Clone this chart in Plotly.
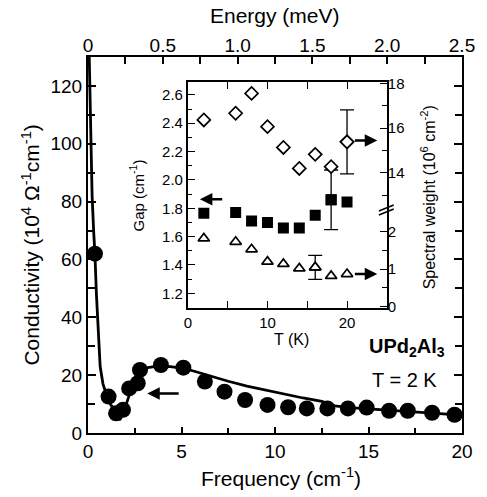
import plotly.graph_objects as go

# ---------------- data ----------------
# main panel: optical conductivity at T = 2 K
freq_pts = [0.37, 1.1, 1.5, 1.87, 2.2, 2.66, 2.78, 3.9, 5.1, 6.25, 7.3, 8.4, 9.6,
            10.7, 11.7, 12.8, 13.9, 14.9, 16.1, 17.1, 18.4, 19.6]
sigma_pts = [62, 12.6, 6.8, 8.0, 15.4, 17.2, 21.8, 23.5, 22.6, 17.8, 14.3, 11.4, 9.7,
             8.9, 8.5, 8.5, 8.5, 8.8, 7.7, 7.7, 7.0, 6.3]

fit_f = [0.05, 0.1, 0.15, 0.22, 0.3, 0.37, 0.45, 0.55, 0.65, 0.8, 1.0, 1.2, 1.45, 1.7,
         1.95, 2.2, 2.5, 2.8, 3.2, 3.7, 4.3, 5.0, 5.5, 6.5, 7.5, 8.5, 9.5, 10.5, 11.5,
         12.5, 13.2, 14.0, 15.0, 16.0, 17.0, 18.0, 19.0, 20.0]
fit_s = [135, 118, 100, 82, 70, 62, 48, 33, 23, 17, 13, 10, 7, 4.5,
         8, 13, 18, 21.5, 22.6, 23.1, 23.0, 22.4, 21.7, 19.7, 17.9, 16.2, 14.8, 13.5, 12.1,
         10.9, 9.4, 8.8, 8.4, 8.0, 7.6, 7.1, 6.6, 6.1]

CM_TO_MEV = 0.12398

# inset: temperature dependence
T = [2, 6, 8, 10, 12, 14, 16, 18, 20]
gap = [1.765, 1.77, 1.71, 1.70, 1.66, 1.66, 1.75, 1.86, 1.845]
sw_high = [16.36, 16.66, 17.55, 16.06, 15.13, 14.19, 14.82, 14.27, 15.38]
sw_low = [1.82, 1.73, 1.53, 1.20, 1.14, 1.02, 1.05, 0.82, 0.87]
gap_err_T, gap_err = 18, 0.21
swh_err_T, swh_err = 20, 1.43
swl_err_T, swl_err = 16, 0.32

main_xticks = [0, 5, 10, 15, 20]
main_yticks = [0, 20, 40, 60, 80, 100, 120]
energy_ticks = [0, 0.5, 1.0, 1.5, 2.0, 2.5]
energy_ticktext = ["0", "0.5", "1.0", "1.5", "2.0", "2.5"]
inset_xticks = [0, 10, 20]
gap_ticks = [1.2, 1.4, 1.6, 1.8, 2.0, 2.2, 2.4, 2.6]
gap_ticktext = ["1.2", "1.4", "1.6", "1.8", "2.0", "2.2", "2.4", "2.6"]
swh_ticks = [14, 16, 18]
swl_ticks = [0, 1, 2]

# ---------------- geometry helpers ----------------
W, H = 487, 497
L, R, TOP, BOT = 88, 466, 57, 433


def px(x):
    return (x - L) / (R - L)


def py(y):
    return (BOT - y) / (BOT - TOP)


FONT = "Liberation Sans, Arial, Helvetica, sans-serif"
BLACK = "black"
CLEAR = "rgba(0,0,0,0)"

fig = go.Figure()

# main fit line
fig.add_trace(go.Scatter(x=fit_f, y=fit_s, mode="lines",
                         line=dict(color=BLACK, width=2.8), xaxis="x", yaxis="y",
                         cliponaxis=True, showlegend=False, hoverinfo="skip"))
# main data points
fig.add_trace(go.Scatter(x=freq_pts, y=sigma_pts, mode="markers",
                         marker=dict(color=BLACK, size=16, symbol="circle"),
                         xaxis="x", yaxis="y", showlegend=False))
# invisible trace on energy axis
fig.add_trace(go.Scatter(x=[f * CM_TO_MEV for f in freq_pts], y=sigma_pts, mode="markers",
                         marker=dict(opacity=0), xaxis="x2", yaxis="y",
                         showlegend=False, hoverinfo="skip"))

# inset: gap (filled squares)
fig.add_trace(go.Scatter(x=T, y=gap, mode="markers",
                         marker=dict(color=BLACK, size=11, symbol="square"),
                         xaxis="x3", yaxis="y3", showlegend=False))
ig = T.index(gap_err_T)
fig.add_trace(go.Scatter(x=[T[ig]], y=[gap[ig]], mode="markers",
                         marker=dict(color=BLACK, size=11, symbol="square"),
                         error_y=dict(type="data", array=[gap_err], color=BLACK,
                                      thickness=1.3, width=7),
                         xaxis="x3", yaxis="y3", showlegend=False))
# inset: spectral weight high (open diamonds)
fig.add_trace(go.Scatter(x=T, y=sw_high, mode="markers",
                         marker=dict(color="white", size=10, symbol="diamond",
                                     line=dict(color=BLACK, width=1.7)),
                         xaxis="x3", yaxis="y4", showlegend=False))
ih = T.index(swh_err_T)
fig.add_trace(go.Scatter(x=[T[ih]], y=[sw_high[ih]], mode="markers",
                         marker=dict(color="white", size=10, symbol="diamond",
                                     line=dict(color=BLACK, width=1.7)),
                         error_y=dict(type="data", array=[swh_err], color=BLACK,
                                      thickness=1.3, width=7),
                         xaxis="x3", yaxis="y4", showlegend=False))
# inset: spectral weight low (open triangles)
fig.add_trace(go.Scatter(x=T, y=sw_low, mode="markers",
                         marker=dict(color="white", size=10, symbol="triangle-up",
                                     line=dict(color=BLACK, width=1.7)),
                         xaxis="x3", yaxis="y5", showlegend=False))
il = T.index(swl_err_T)
fig.add_trace(go.Scatter(x=[T[il]], y=[sw_low[il]], mode="markers",
                         marker=dict(color="white", size=10, symbol="triangle-up",
                                     line=dict(color=BLACK, width=1.7)),
                         error_y=dict(type="data", array=[swl_err], color=BLACK,
                                      thickness=1.3, width=7),
                         xaxis="x3", yaxis="y5", showlegend=False))

axis_common = dict(showgrid=False, zeroline=False, showline=True, linecolor=BLACK,
                   ticks="inside", tickcolor=BLACK, color=BLACK)

ix0, ix1 = px(189), px(390)
iy0, iy1 = py(308), py(82)
ibrk = py(212)

fig.update_layout(
    width=W, height=H,
    margin=dict(l=L, r=W - R, t=TOP, b=H - BOT, pad=0),
    paper_bgcolor="white", plot_bgcolor=CLEAR,
    font=dict(family=FONT, color=BLACK),
    showlegend=False,
    xaxis=dict(**axis_common, domain=[0, 1], anchor="y", range=[0, 20],
               linewidth=2, mirror=True, tickvals=main_xticks, ticklen=6, tickwidth=1.5,
               minor=dict(dtick=2.5, ticks="inside", ticklen=5, tickwidth=1.5, tickcolor=BLACK),
               tickfont=dict(size=19)),
    xaxis2=dict(showgrid=False, zeroline=False, showline=False, overlaying="x", side="top",
                anchor="y", range=[0, 2.5], ticks="inside", tickcolor=BLACK, ticklen=7,
                tickwidth=1.5, tickvals=energy_ticks, ticktext=energy_ticktext,
                minor=dict(dtick=0.25, ticks="inside", ticklen=7, tickwidth=1.5, tickcolor=BLACK),
                tickfont=dict(size=19)),
    yaxis=dict(**axis_common, domain=[0, 1], anchor="x", range=[0, 130],
               linewidth=2, mirror="ticks", tickvals=main_yticks, ticklen=8, tickwidth=1.5,
               minor=dict(dtick=10, ticks="inside", ticklen=7, tickwidth=1.5, tickcolor=BLACK),
               tickfont=dict(size=19)),
    xaxis3=dict(**axis_common, domain=[ix0, ix1], anchor="y3", range=[0, 25],
                linewidth=2, mirror="ticks", tickvals=inset_xticks, ticklen=7, tickwidth=1.3,
                minor=dict(dtick=5, ticks="inside", ticklen=7, tickwidth=1.3, tickcolor=BLACK),
                tickfont=dict(size=15)),
    yaxis3=dict(**axis_common, domain=[iy0, iy1], anchor="x3", range=[1.0964, 2.691],
                linewidth=2, mirror=True, tickvals=gap_ticks, ticktext=gap_ticktext,
                ticklen=7, tickwidth=1.3,
                minor=dict(dtick=0.1, ticks="inside", ticklen=4, tickwidth=1.3, tickcolor=BLACK),
                tickfont=dict(size=15)),
    yaxis4=dict(showgrid=False, zeroline=False, showline=False, ticks="inside", tickcolor=BLACK,
                domain=[ibrk, iy1], anchor="x3", side="right", range=[12.24, 18.06],
                tickvals=swh_ticks, ticklen=7, tickwidth=1.3,
                minor=dict(dtick=1, ticks="inside", ticklen=5, tickwidth=1.3, tickcolor=BLACK),
                tickfont=dict(size=15)),
    yaxis5=dict(showgrid=False, zeroline=False, showline=False, ticks="inside", tickcolor=BLACK,
                domain=[iy0, ibrk], anchor="x3", side="right", range=[-0.035, 2.525],
                tickvals=swl_ticks, ticklen=7, tickwidth=1.3,
                minor=dict(dtick=0.5, ticks="inside", ticklen=5, tickwidth=1.3, tickcolor=BLACK),
                tickfont=dict(size=15)),
)

ann = []
# main axis titles
ann.append(dict(text="Energy (meV)", x=px(277), y=py(15), xref="paper", yref="paper",
                showarrow=False, font=dict(size=21), xanchor="center", yanchor="middle"))
ann.append(dict(text="Frequency (cm<sup>-1</sup>)", x=px(283), y=py(477), xref="paper",
                yref="paper", showarrow=False, font=dict(size=21),
                xanchor="center", yanchor="middle"))
ann.append(dict(text="Conductivity (10<sup>4</sup> Ω<sup>-1</sup>cm<sup>-1</sup>)",
                x=px(30), y=py(245), xref="paper", yref="paper", showarrow=False,
                textangle=-90, font=dict(size=21), xanchor="center", yanchor="middle"))
# inset titles
ann.append(dict(text="Gap (cm<sup>-1</sup>)", x=px(137), y=py(195), xref="paper", yref="paper",
                showarrow=False, textangle=-90, font=dict(size=15),
                xanchor="center", yanchor="middle"))
ann.append(dict(text="Spectral weight (10<sup>6</sup> cm<sup>-2</sup>)", x=px(432), y=py(197),
                xref="paper", yref="paper", showarrow=False, textangle=-90,
                font=dict(size=16), xanchor="center", yanchor="middle"))
ann.append(dict(text="T (K)", x=px(294), y=py(339), xref="paper", yref="paper",
                showarrow=False, font=dict(size=16), xanchor="center", yanchor="middle"))
# sample labels
ann.append(dict(text="<b>UPd<sub>2</sub>Al<sub>3</sub></b>", x=px(410), y=py(347),
                xref="paper", yref="paper", showarrow=False, font=dict(size=20),
                xanchor="center", yanchor="middle"))
ann.append(dict(text="T = 2 K", x=px(408), y=py(380), xref="paper", yref="paper",
                showarrow=False, font=dict(size=20), xanchor="center", yanchor="middle"))
# arrows
arrow_style = dict(showarrow=True, text="", arrowhead=2, arrowsize=1, arrowwidth=2.5,
                   arrowcolor=BLACK)
ann.append(dict(**arrow_style, x=3.17, y=13.7, ax=4.93, ay=13.7, xref="x", yref="y",
                axref="x", ayref="y"))
ann.append(dict(**arrow_style, x=1.5, y=1.864, ax=4.5, ay=1.864, xref="x3", yref="y3",
                axref="x3", ayref="y3"))
ann.append(dict(**arrow_style, x=23.8, y=15.44, ax=20.8, ay=15.44, xref="x3", yref="y4",
                axref="x3", ayref="y4"))
ann.append(dict(**arrow_style, x=23.8, y=0.87, ax=20.8, ay=0.87, xref="x3", yref="y5",
                axref="x3", ayref="y5"))
fig.update_layout(annotations=ann)

# axis-break marks on the inset's right axis
for dy in (0, 4):
    fig.add_shape(type="line", xref="paper", yref="paper",
                  x0=px(382), y0=py(213 + dy - 2), x1=px(397), y1=py(207 + dy - 2),
                  line=dict(color=BLACK, width=1.5))

fig.write_html("out.html")
